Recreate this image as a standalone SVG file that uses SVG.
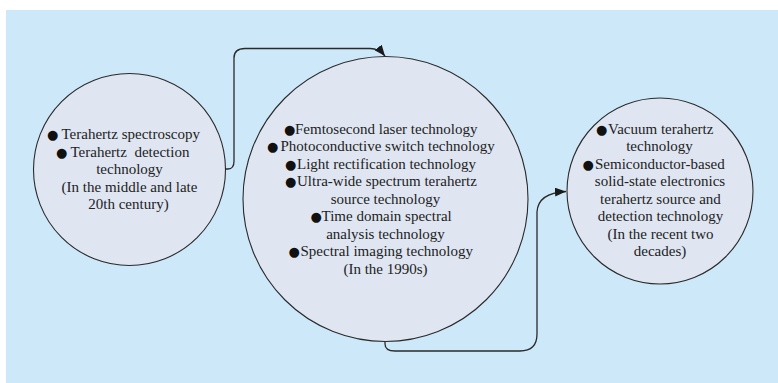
<svg xmlns="http://www.w3.org/2000/svg" width="778" height="383" viewBox="0 0 778 383">
<defs>
<style>
.bg{fill:#cde8f9;}
.node{fill:#dfe6f2;stroke:#2a2a2a;stroke-width:1.1;}
.t{font-family:"Liberation Serif","Times New Roman",serif;font-size:15px;fill:#222222;}
.b{font-family:"DejaVu Sans",sans-serif;font-size:13px;fill:#111111;}
.c{text-anchor:middle;}
.conn{fill:none;stroke:#2a2a2a;stroke-width:1.3;}
</style>
<marker id="arr" markerUnits="userSpaceOnUse" markerWidth="12" markerHeight="10" refX="11" refY="4.5" orient="auto">
<path d="M0,0 L11,4.5 L0,9 z" fill="#1a1a1a"/>
</marker>
</defs>
<rect class="bg" x="6" y="10" width="772" height="373"/>
<g id="connectors">
<path class="conn" d="M225,169 L228,169 Q234,169 234,161 L234,58 Q234,48.5 245,48.5 L370,48.5 Q379,48.5 385,56" marker-end="url(#arr)"/>
<path class="conn" d="M385,341 L385,344 Q385,351 395,351 L520,351 Q537,351 537,334 L537,212 Q538,193 566,191.5" marker-end="url(#arr)"/>
</g>
<g id="node1">
<circle class="node" cx="129.5" cy="169.5" r="96"/>
<text class="t" y="139"><tspan class="b" x="47">●</tspan><tspan x="61.5">Terahertz spectroscopy</tspan></text>
<text class="t" y="156.5" xml:space="preserve"><tspan class="b" x="56">●</tspan><tspan x="70.5">Terahertz  detection</tspan></text>
<text class="t c" x="129.5" y="174">technology</text>
<text class="t c" x="129.5" y="191.5">(In the middle and late</text>
<text class="t c" x="128.5" y="209">20th century)</text>
</g>
<g id="node2">
<circle class="node" cx="385.5" cy="199" r="142.5"/>
<text class="t" y="133.5"><tspan class="b" x="284">●</tspan><tspan x="295">Femtosecond laser technology</tspan></text>
<text class="t" y="151"><tspan class="b" x="267">●</tspan><tspan x="280.5">Photoconductive switch technology</tspan></text>
<text class="t" y="168.5"><tspan class="b" x="285">●</tspan><tspan x="297">Light rectification technology</tspan></text>
<text class="t" y="186"><tspan class="b" x="285">●</tspan><tspan x="297">Ultra-wide spectrum terahertz</tspan></text>
<text class="t c" x="385.5" y="203.5">source technology</text>
<text class="t" y="221"><tspan class="b" x="310.5">●</tspan><tspan x="321.5">Time domain spectral</tspan></text>
<text class="t c" x="385.5" y="238.5">analysis technology</text>
<text class="t" y="256"><tspan class="b" x="288.5">●</tspan><tspan x="300.5">Spectral imaging technology</tspan></text>
<text class="t c" x="385.5" y="273.5">(In the 1990s)</text>
</g>
<g id="node3">
<circle class="node" cx="660" cy="191" r="93"/>
<text class="t" y="134"><tspan class="b" x="596">●</tspan><tspan x="608">Vacuum terahertz</tspan></text>
<text class="t c" x="659.5" y="151">technology</text>
<text class="t" y="168.5"><tspan class="b" x="582.5">●</tspan><tspan x="595">Semiconductor-based</tspan></text>
<text class="t c" x="660" y="186">solid-state electronics</text>
<text class="t c" x="660.5" y="203.5">terahertz source and</text>
<text class="t c" x="660.5" y="221">detection technology</text>
<text class="t c" x="660.5" y="238.5">(In the recent two</text>
<text class="t c" x="660" y="256">decades)</text>
</g>
</svg>
